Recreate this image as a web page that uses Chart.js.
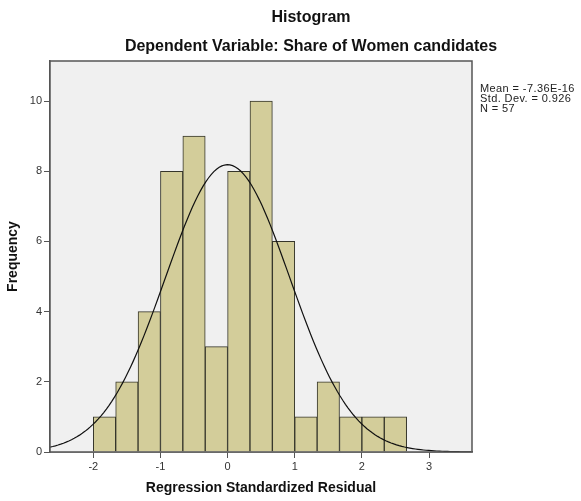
<!DOCTYPE html>
<html>
<head>
<meta charset="utf-8">
<script src="https://cdn.jsdelivr.net/npm/chart.js@4.4.1/dist/chart.umd.min.js"></script>
<style>
    body { margin: 0; background: #fff; }
    #wrap { position: relative; width: 581px; height: 501px; }
    .ttl { position: absolute; left: 311px; transform: translateX(-50%); white-space: nowrap;
           font-family: 'Liberation Sans', Arial, sans-serif; font-weight: bold; color: #111; }
    #stats { position: absolute; left: 480px; top: 83px; font-family: 'Liberation Sans', Arial, sans-serif;
             font-size: 11px; letter-spacing: 0.4px; line-height: 10px; color: #222; }
</style>
</head>
<body>
<div id="wrap">
    <canvas id="histChart" width="581" height="501"></canvas>
    <div class="ttl" style="top:8px;font-size:16px;">Histogram</div>
    <div class="ttl" style="top:37px;font-size:16px;">Dependent Variable: Share of Women candidates</div>
    <div id="stats">Mean = -7.36E-16<br>Std. Dev. = 0.926<br>N = 57</div>
</div>
<script>
// bin centres (width 1/3) and counts
const binCenters = [-1.8333, -1.5, -1.1667, -0.8333, -0.5, -0.1667, 0.1667, 0.5, 0.8333, 1.1667, 1.5, 1.8333, 2.1667, 2.5];
const binCounts  = [1, 2, 4, 8, 9, 3, 8, 10, 6, 1, 2, 1, 1, 1];
const binWidth   = 1 / 3;

// fitted normal curve parameters (from the legend)
const curveMean = -7.36e-16;
const curveSd   = 0.926;
const curveN    = 57;

const xTicks = [-2, -1, 0, 1, 2, 3];
const yTicks = [0, 2, 4, 6, 8, 10];

// normal curve scaled to the histogram
const curvePoints = [];
for (let x = -2.645; x <= 3.64; x += 0.04) {
    const z = (x - curveMean) / curveSd;
    const y = curveN * binWidth * Math.exp(-0.5 * z * z) / (curveSd * Math.sqrt(2 * Math.PI));
    curvePoints.push({ x: x, y: y });
}

const plotFrame = {
    id: 'plotFrame',
    beforeDatasetsDraw(chart) {
        const a = chart.chartArea, ctx = chart.ctx;
        ctx.save();
        ctx.fillStyle = '#f0f0f0';
        ctx.fillRect(a.left, a.top, a.right - a.left, a.bottom - a.top);
        ctx.restore();
    },
    afterDraw(chart) {
        const a = chart.chartArea, ctx = chart.ctx;
        ctx.save();
        ctx.strokeStyle = '#555';
        ctx.lineWidth = 1.5;
        ctx.strokeRect(a.left, a.top, a.right - a.left, a.bottom - a.top);
        ctx.restore();
    }
};

const ctx = document.getElementById('histChart').getContext('2d');
new Chart(ctx, {
    type: 'bar',
    data: {
        datasets: [{
            type: 'line',
            data: curvePoints,
            borderColor: '#111',
            borderWidth: 1.2,
            pointRadius: 0,
            fill: false,
            tension: 0
        }, {
            type: 'bar',
            data: binCenters.map((c, i) => ({ x: c, y: binCounts[i] })),
            backgroundColor: '#d3cd9a',
            borderColor: '#35352a',
            borderWidth: 1,
            barPercentage: 1,
            categoryPercentage: 1
        }]
    },
    options: {
        responsive: false,
        animation: false,
        layout: { padding: { left: 0, right: 109, top: 61, bottom: 0 } },
        plugins: { legend: { display: false }, tooltip: { enabled: false } },
        scales: {
            x: {
                type: 'linear',
                min: -2.645,
                max: 3.64,
                offset: false,
                afterFit: s => { s.height = 49; },
                afterBuildTicks: s => { s.ticks = xTicks.map(v => ({ value: v })); },
                ticks: { color: '#333', font: { family: 'Liberation Sans', size: 11 }, padding: 2 },
                grid: { drawOnChartArea: false, offset: false, tickLength: 6, color: '#555' },
                border: { color: '#555', width: 1.5 },
                title: {
                    display: true,
                    text: 'Regression Standardized Residual',
                    color: '#111',
                    font: { family: 'Liberation Sans', size: 14, weight: 'bold' },
                    padding: { top: 6 }
                }
            },
            y: {
                min: 0,
                max: 11.14,
                afterFit: s => { s.width = 50; },
                afterBuildTicks: s => { s.ticks = yTicks.map(v => ({ value: v })); },
                ticks: { color: '#333', font: { family: 'Liberation Sans', size: 11 }, padding: 2 },
                grid: { drawOnChartArea: false, tickLength: 6, color: '#555' },
                border: { color: '#555', width: 1.5 },
                title: {
                    display: true,
                    text: 'Frequency',
                    color: '#111',
                    font: { family: 'Liberation Sans', size: 14, weight: 'bold' },
                    padding: { top: 5, bottom: 4 }
                }
            }
        }
    },
    plugins: [plotFrame]
});
</script>
</body>
</html>
